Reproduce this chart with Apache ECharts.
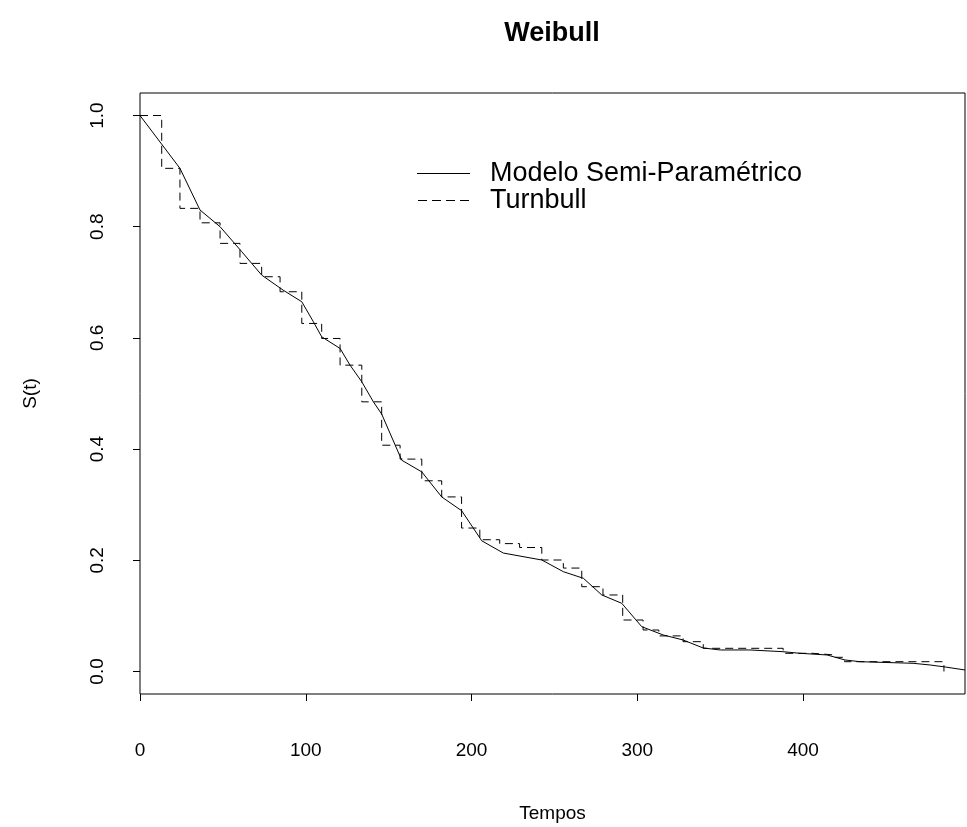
<!DOCTYPE html>
<html>
<head>
<meta charset="utf-8">
<script src="https://cdn.jsdelivr.net/npm/echarts@6/dist/echarts.min.js"></script>
<style>
  html, body { margin: 0; padding: 0; background: #fff; }
  #chart { width: 967px; height: 827px; }
</style>
</head>
<body>
<div id="chart"></div>
<script>
// Semi-parametric model curve (times and survival)
var semiTimes = [0, 24.1, 36.2, 48.3, 61.4, 73.4, 86.3, 97.6, 104.6, 109.6, 120.7, 126.7, 133.8, 140.8, 145.8,
  157.9, 170.0, 182.0, 194.1, 206.2, 219.2, 242.4, 255.4, 267.5, 278.6, 290.6, 302.7, 315.7, 327.6, 339.7,
  350.0, 368.0, 387.9, 398.2, 414.5, 425.3, 434.4, 466.4, 476.6, 485.7, 497.7];
var semiSurv = [1.000, 0.905, 0.830, 0.800, 0.755, 0.713, 0.686, 0.665, 0.629, 0.602, 0.581, 0.551, 0.521, 0.485, 0.463,
  0.380, 0.359, 0.314, 0.289, 0.235, 0.213, 0.2005, 0.1795, 0.1676, 0.1376, 0.1227, 0.0806, 0.0656, 0.0567, 0.0423,
  0.0387, 0.0387, 0.0356, 0.0327, 0.0297, 0.0207, 0.0176, 0.0147, 0.0117, 0.0081, 0.0027];

// Turnbull estimate (step times and survival)
var turnTimes = [0, 13.1, 24.1, 36.2, 48.3, 60.3, 73.4, 84.5, 97.6, 109.6, 120.7, 133.8, 145.8, 156.9, 170.0,
  182.0, 194.0, 205.0, 217, 229, 242.4, 255.4, 266.5, 279.3, 291.2, 303.5, 313, 327.6, 339.8, 388,
  406, 419, 425, 485];
var turnSurv = [1.000, 0.905, 0.833, 0.807, 0.770, 0.734, 0.710, 0.683, 0.626, 0.599, 0.551, 0.485, 0.407, 0.382, 0.343,
  0.314, 0.258, 0.237, 0.230, 0.223, 0.2005, 0.186, 0.1525, 0.1376, 0.0926, 0.0746, 0.064, 0.0536, 0.0417, 0.0327,
  0.0297, 0.0255, 0.0176, 0.0];

var yTicks = [0, 0.2, 0.4, 0.6, 0.8, 1.0];

function pairs(xs, ys) {
  var out = [];
  for (var i = 0; i < xs.length; i++) { out.push([xs[i], ys[i]]); }
  return out;
}

var font = 'Liberation Sans, Arial, sans-serif';
var chart = echarts.init(document.getElementById('chart'));

// legend icons: plain line and 4-dash line
var solidIcon = 'path://M0 0H53V1H0Z';
var dashIcon = 'path://M0 0H9V1H0Z M14 0H23V1H14Z M28 0H37V1H28Z M42 0H51V1H42Z';

var option = {
  backgroundColor: '#fff',
  animation: false,
  title: {
    text: 'Weibull',
    left: 552,
    textAlign: 'center',
    top: 20,
    padding: 0,
    textStyle: { fontFamily: font, fontSize: 27, fontWeight: 'bold', color: '#000' }
  },
  legend: {
    orient: 'vertical',
    left: 417,
    top: 160,
    padding: 0,
    itemWidth: 53,
    itemHeight: 1,
    itemGap: 0,
    textStyle: { fontFamily: font, fontSize: 27, lineHeight: 27, color: '#000', padding: [0, 0, 0, 15] },
    data: [
      { name: 'Modelo Semi-Paramétrico', icon: solidIcon },
      { name: 'Turnbull', icon: dashIcon }
    ]
  },
  grid: {
    left: 140, top: 93, right: 2, bottom: 133,
    outerBoundsMode: 'none',
    show: true, borderColor: '#000', borderWidth: 1
  },
  xAxis: {
    type: 'value',
    min: 0, max: 497.7, interval: 100,
    name: 'Tempos',
    nameLocation: 'middle',
    nameGap: 110,
    nameTextStyle: { fontFamily: font, fontSize: 19, color: '#000' },
    axisLine: { show: false, onZero: false },
    axisTick: { show: true, length: 7, lineStyle: { color: '#000' } },
    axisLabel: { margin: 47, showMaxLabel: false, fontFamily: font, fontSize: 19, color: '#000' },
    splitLine: { show: false }
  },
  yAxis: {
    type: 'value',
    min: -0.0405, max: 1.0405,
    name: 'S(t)',
    nameLocation: 'middle',
    nameGap: 100,
    nameTextStyle: { fontFamily: font, fontSize: 19, color: '#000' },
    axisLine: { show: false, onZero: false },
    axisTick: { show: true, length: 7, customValues: yTicks, lineStyle: { color: '#000' } },
    axisLabel: {
      customValues: yTicks, rotate: 90, margin: 33,
      fontFamily: font, fontSize: 19, color: '#000',
      formatter: function (v) { return v.toFixed(1); }
    },
    splitLine: { show: false }
  },
  series: [
    {
      name: 'Modelo Semi-Paramétrico',
      type: 'line',
      data: pairs(semiTimes, semiSurv),
      symbol: 'none',
      lineStyle: { color: '#000', width: 1 },
      itemStyle: { color: '#000' }
    },
    {
      name: 'Turnbull',
      type: 'line',
      step: 'end',
      data: pairs(turnTimes, turnSurv),
      symbol: 'none',
      lineStyle: { color: '#000', width: 1, type: [8, 5] },
      itemStyle: { color: '#000' }
    }
  ]
};

chart.setOption(option);
</script>
</body>
</html>
